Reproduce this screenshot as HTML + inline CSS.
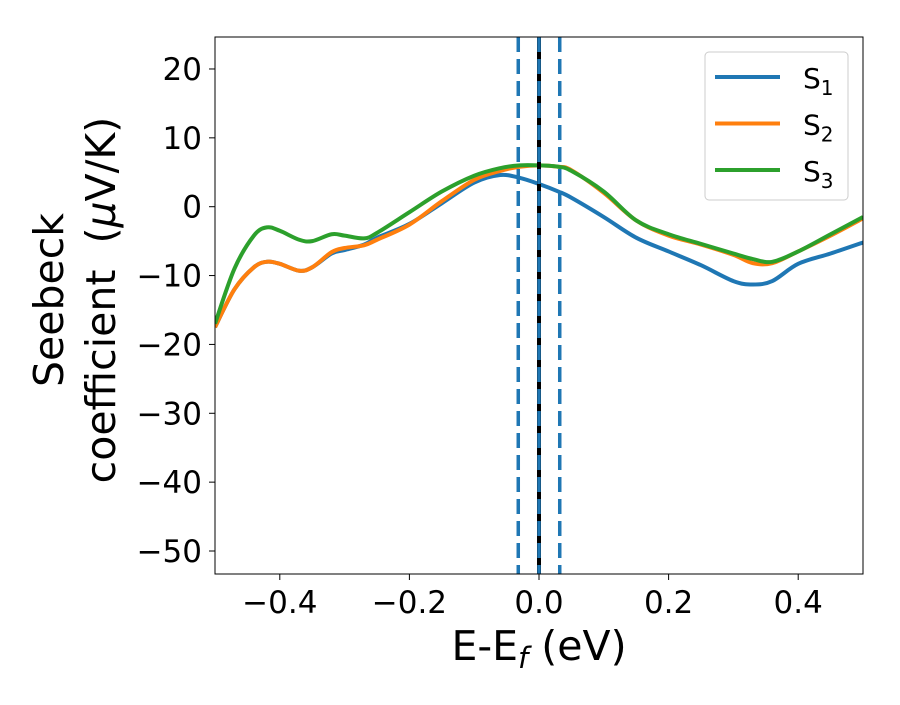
<!DOCTYPE html>
<html><head><meta charset="utf-8"><style>
body{margin:0;background:#fff}
svg text{font-family:"DejaVu Sans","Liberation Sans",sans-serif;fill:#000}
</style></head><body>
<svg id="chart" width="900" height="700" xmlns="http://www.w3.org/2000/svg">
<defs><clipPath id="clip"><rect x="215" y="37" width="648" height="537"/></clipPath></defs>
<g id="grid"></g>
<g id="series" clip-path="url(#clip)"></g>
<rect x="215" y="37" width="648" height="537" fill="none" stroke="#000" stroke-width="1"/>
<g id="axes"></g>
<g>
<rect x="705" y="52" width="143" height="148" rx="4" fill="#fff" fill-opacity="0.8" stroke="#ccc"/>
<g id="legend-items"></g>
</g>
<text x="539" y="660" font-size="41" text-anchor="middle">E-E<tspan font-style="italic" font-size="29" dy="8">f</tspan><tspan dy="-8"> (eV)</tspan></text>
<g transform="translate(63,300) rotate(-90)">
<text x="0" y="0" font-size="41" text-anchor="middle">Seebeck</text>
<text x="0" y="52" font-size="41" text-anchor="middle" xml:space="preserve">coefficient  (<tspan font-style="italic">μ</tspan>V/K)</text>
</g>
</svg>
<script>
const xs=[-0.5,-0.47,-0.44,-0.42,-0.4,-0.37,-0.35,-0.32,-0.3,-0.27,-0.25,-0.2,-0.15,-0.1,-0.06,-0.03,0,0.03,0.05,0.1,0.15,0.2,0.25,0.3,0.33,0.36,0.4,0.45,0.5];
const s1=[-17.5,-12,-8.8,-8,-8.3,-9.3,-8.8,-6.8,-6.3,-5.5,-4.5,-2.5,0.5,3.5,4.6,4.2,3.3,2.2,1.3,-1.5,-4.5,-6.5,-8.5,-10.8,-11.3,-10.8,-8.3,-6.8,-5.2];
const s2=[-17.5,-12,-8.8,-8,-8.3,-9.3,-8.8,-6.6,-6,-5.6,-4.8,-2.6,0.8,3.9,5.2,5.8,6,5.8,5.3,2,-2,-4.2,-5.5,-7,-8.2,-8.2,-6.5,-4.2,-1.7];
const s3=[-17,-9,-4.2,-3,-3.5,-4.8,-5,-4,-4.2,-4.6,-3.8,-0.8,2.2,4.5,5.6,6,6,5.8,5.2,2.2,-2,-4,-5.4,-6.8,-7.6,-8,-6.5,-4,-1.5];
const xTicks=[-0.4,-0.2,0.0,0.2,0.4];
const xTickLabels=["−0.4","−0.2","0.0","0.2","0.4"];
const yTicks=[20,10,0,-10,-20,-30,-40,-50];
const yTickLabels=["20","10","0","−10","−20","−30","−40","−50"];
const vlines=[-0.032,0,0.032];
const seriesNames=["S1","S2","S3"];
const colors=["#1f77b4","#ff7f0e","#2ca02c"];
const X=v=>539+v*648;
const Y=v=>206.7-v*6.886;
const NS="http://www.w3.org/2000/svg";
const mk=(t,a,p)=>{const e=document.createElementNS(NS,t);for(const k in a)e.setAttribute(k,a[k]);p.appendChild(e);return e;};
const axes=document.getElementById('axes'),ser=document.getElementById('series'),leg=document.getElementById('legend-items');
xTicks.forEach((t,i)=>{
 const l=mk('line',{x1:X(t),x2:X(t),y1:574,y2:580,stroke:'#000'},axes);
 
 
 const tx=mk('text',{x:X(t),y:613,'font-size':31,'text-anchor':'middle'},axes);tx.textContent=xTickLabels[i];
 
 
});
yTicks.forEach((t,i)=>{
 const l=mk('line',{x1:209,x2:215,y1:Y(t),y2:Y(t),stroke:'#000'},axes);
 
 
 const tx=mk('text',{x:202,y:Y(t)+11,'font-size':31,'text-anchor':'end'},axes);tx.textContent=yTickLabels[i];
 
 
});
function path(ys){
 const p=xs.map((x,i)=>[X(x),Y(ys[i])]);let d=`M${p[0][0]},${p[0][1]}`;
 for(let i=0;i<p.length-1;i++){const a=p[Math.max(0,i-1)],b=p[i],c=p[i+1],e=p[Math.min(p.length-1,i+2)];
  d+=` C${b[0]+(c[0]-a[0])/6},${b[1]+(c[1]-a[1])/6} ${c[0]-(e[0]-b[0])/6},${c[1]-(e[1]-b[1])/6} ${c[0]},${c[1]}`;}
 return d;}
[s1,s2,s3].forEach((s,i)=>{
 const p=mk('path',{d:path(s),fill:'none',stroke:colors[i],'stroke-width':4,'stroke-linejoin':'round'},ser);
 
 
});
const bl=mk('line',{x1:X(0),x2:X(0),y1:37,y2:574,stroke:'#000','stroke-width':4},ser);


vlines.forEach(v=>{
 const l=mk('line',{x1:X(v),x2:X(v),y1:37,y2:574,stroke:'#1f77b4','stroke-width':3.5,'stroke-dasharray':'15,7'},ser);
 
 
});
seriesNames.forEach((n,i)=>{
 const y=77+i*46.5;
 const l=mk('line',{x1:715,x2:780,y1:y,y2:y,stroke:colors[i],'stroke-width':4},leg);
 
 
 const t=mk('text',{x:803,y:y+11,'font-size':28},leg);
 t.innerHTML=n[0]+'<tspan font-size="20" dy="7">'+n.slice(1)+'</tspan>';
 
 
});
</script>
</body></html>
